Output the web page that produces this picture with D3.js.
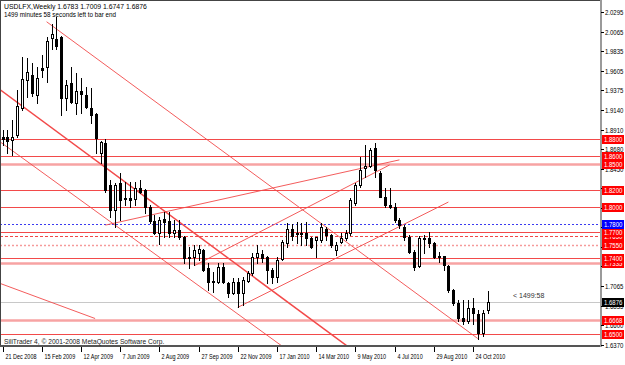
<!DOCTYPE html>
<html>
<head>
<meta charset="utf-8">
<script src="https://cdn.jsdelivr.net/npm/d3@7"></script>
<style>
  body { margin: 0; background: #fff; }
  svg { display: block; }
  text { font-family: "Liberation Sans", Arial, sans-serif; }
</style>
</head>
<body>
<svg id="chart" width="625" height="365"></svg>
<script>
// weekly bars, first bar = week of 21 Dec 2008
const barOpen = [1.8824,1.8824,1.8788,1.8847,1.9167,1.9498,1.9557,1.9321,1.9640,1.9652,
  1.9983,1.9971,1.9995,1.9285,1.9462,1.9226,1.9368,1.9321,1.9167,1.9096,
  1.8634,1.8753,1.8256,1.7960,1.8279,1.8090,1.8102,1.8090,1.8220,1.8197,
  1.7996,1.7830,1.7688,1.7854,1.7830,1.7688,1.7723,1.7641,1.7404,1.7404,
  1.7451,1.7487,1.7274,1.7108,1.7108,1.7286,1.7096,1.6978,1.7108,1.6978,
  1.7120,1.7215,1.7404,1.7440,1.7404,1.7250,1.7167,1.7380,1.7570,1.7735,
  1.7676,1.7688,1.7688,1.7629,1.7605,1.7605,1.7735,1.7664,1.7487,1.7582,
  1.7629,1.7688,1.8043,1.8256,1.8457,1.8481,1.8694,1.8398,1.8114,1.8019,
  1.7996,1.7842,1.7759,1.7641,1.7463,1.7298,1.7617,1.7629,1.7570,1.7404,
  1.7416,1.7298,1.7014,1.6860,1.6694,1.6658,1.6801,1.6741,1.6517,1.6783];
const barHigh = [1.8906,1.8906,1.9025,1.9380,1.9770,1.9758,1.9699,1.9652,1.9794,1.9995,
  2.0149,2.0231,2.0007,1.9498,1.9652,1.9581,1.9522,1.9415,1.9403,1.9108,
  1.8776,1.8800,1.8315,1.8279,1.8398,1.8291,1.8291,1.8291,1.8315,1.8208,
  1.8019,1.7901,1.7877,1.7936,1.7936,1.7842,1.7842,1.7652,1.7522,1.7546,
  1.7546,1.7499,1.7333,1.7227,1.7333,1.7333,1.7108,1.7156,1.7156,1.7167,
  1.7238,1.7451,1.7546,1.7487,1.7416,1.7274,1.7404,1.7605,1.7806,1.7794,
  1.7818,1.7806,1.7818,1.7641,1.7641,1.7806,1.7759,1.7676,1.7582,1.7688,
  1.7723,1.8102,1.8279,1.8587,1.8729,1.8694,1.8753,1.8421,1.8220,1.8220,
  1.8043,1.7865,1.7783,1.7664,1.7487,1.7652,1.7664,1.7700,1.7582,1.7463,
  1.7416,1.7309,1.7026,1.6895,1.6895,1.6895,1.6919,1.6777,1.6777,1.7009];
const barLow = [1.8729,1.8634,1.8611,1.8824,1.9143,1.9297,1.9309,1.9226,1.9533,1.9474,
  1.9853,1.9853,1.9084,1.9143,1.9226,1.9096,1.9108,1.9167,1.8989,1.8634,
  1.8516,1.8173,1.7877,1.7759,1.7842,1.8019,1.7996,1.8019,1.8161,1.7925,
  1.7806,1.7676,1.7558,1.7641,1.7641,1.7641,1.7617,1.7333,1.7274,1.7309,
  1.7369,1.7238,1.7014,1.6990,1.7096,1.7096,1.6931,1.6966,1.6813,1.6836,
  1.7108,1.7191,1.7333,1.7345,1.7096,1.7096,1.7108,1.7369,1.7522,1.7605,
  1.7570,1.7546,1.7546,1.7510,1.7404,1.7582,1.7605,1.7522,1.7428,1.7570,
  1.7605,1.7664,1.8019,1.8232,1.8350,1.8469,1.8350,1.8114,1.7996,1.7984,
  1.7818,1.7747,1.7605,1.7451,1.7250,1.7286,1.7451,1.7522,1.7392,1.7345,
  1.7250,1.6990,1.6836,1.6658,1.6623,1.6635,1.6623,1.6446,1.6481,1.6747];
const barClose = [1.8800,1.8776,1.8824,1.9190,1.9510,1.9593,1.9344,1.9522,1.9616,1.9948,
  2.0030,1.9900,1.9285,1.9439,1.9238,1.9368,1.9332,1.9179,1.9084,1.8812,
  1.8765,1.8197,1.7960,1.8256,1.8078,1.8102,1.8078,1.8220,1.8173,1.7996,
  1.7830,1.7688,1.7842,1.7818,1.7688,1.7723,1.7641,1.7392,1.7392,1.7487,
  1.7499,1.7250,1.7108,1.7120,1.7286,1.7108,1.6978,1.7108,1.6978,1.7132,
  1.7215,1.7404,1.7451,1.7392,1.7250,1.7167,1.7369,1.7582,1.7735,1.7652,
  1.7688,1.7676,1.7629,1.7522,1.7641,1.7759,1.7664,1.7546,1.7546,1.7629,
  1.7688,1.8078,1.8256,1.8433,1.8481,1.8670,1.8433,1.8114,1.8019,1.7996,
  1.7842,1.7783,1.7641,1.7463,1.7286,1.7629,1.7629,1.7570,1.7404,1.7416,
  1.7309,1.7014,1.6860,1.6694,1.6658,1.6801,1.6753,1.6517,1.6753,1.6876];

const tickBars = [0, 8, 16, 24, 32, 40, 48, 56, 64, 72, 80, 88, 96];
const tickLabels = ["21 Dec 2008", "15 Feb 2009", "12 Apr 2009", "7 Jun 2009", "2 Aug 2009",
  "27 Sep 2009", "22 Nov 2009", "17 Jan 2010", "14 Mar 2010", "9 May 2010", "4 Jul 2010",
  "29 Aug 2010", "24 Oct 2010"];
const priceTicks = [2.0295, 2.0065, 1.9835, 1.9605, 1.9375, 1.9140, 1.8910, 1.8680, 1.8450,
  1.8220, 1.7990, 1.7760, 1.7530, 1.7300, 1.7065, 1.6835, 1.6600, 1.6370];

// horizontal levels, grouped by line type
const solidLevels = [1.8800, 1.8600, 1.8200, 1.8000, 1.7700, 1.7400, 1.6500];
const heavyLevels = [1.8500, 1.7335, 1.6668];
const dashedLevels = [1.7650];
const dottedLevels = [1.7550];
const blueLevels = [1.7800];
const bidPrice = 1.6876;

// trend lines: [bar1, price1, bar2, price2]
const trendLines = [
  [9, 2.0180, 97, 1.6446],
  [-0.5, 1.9380, 70.5, 1.6351],
  [-0.5, 1.8765, 57.2, 1.6351],
  [-0.5, 1.7096, 18.9, 1.6682],
  [21, 1.7783, 81, 1.8552],
  [48, 1.6813, 91, 1.8055],
  [39.3, 1.7309, 79, 1.8492]
];

const headerLine1 = "USDLFX,Weekly  1.6783 1.7009 1.6747 1.6876";
const headerLine2 = "1499 minutes 58 seconds left to bar end";
const footerText = "SiliTrader 4, \u00a9 2001-2008 MetaQuotes Software Corp.";
const timerText = "< 1499:58";

const W = 625, H = 365;
const plotRight = 600, plotBottom = 346;

const svg = d3.select("#chart");
svg.append("rect").attr("width", W).attr("height", H).attr("fill", "#fff");

const x = d3.scaleLinear().domain([0, 99]).range([2.5, 487.6]);
const y = d3.scaleLinear().domain([1.6370, 2.0295]).range([345, 12]);

// squeeze a text to look like the narrow terminal font
function squeeze(sel, k) {
  const w = sel.node().getComputedTextLength();
  sel.attr("textLength", w * k).attr("lengthAdjust", "spacingAndGlyphs");
  return sel;
}

svg.append("clipPath").attr("id", "plot")
  .append("rect").attr("x", 1).attr("y", 1)
  .attr("width", plotRight - 1).attr("height", plotBottom - 1);

const plot = svg.append("g").attr("clip-path", "url(#plot)");
const red = "#f24a4a";

function hline(price, color, width, dash) {
  const yy = Math.round(y(price)) + 0.5;
  plot.append("line")
    .attr("x1", 0).attr("x2", plotRight)
    .attr("y1", yy).attr("y2", yy)
    .attr("stroke", color)
    .attr("stroke-width", width)
    .attr("stroke-dasharray", dash || null);
}

hline(bidPrice, "#c8c8c8", 1);
heavyLevels.forEach(p => hline(p, "#f7a3a3", 2.5));
solidLevels.forEach(p => hline(p, red, 1.2));
dashedLevels.forEach(p => hline(p, red, 1, "3,2"));
dottedLevels.forEach(p => hline(p, "#f59a9a", 1.5, "2,2"));
blueLevels.forEach(p => hline(p, "#3a3af0", 1, "2,2"));

trendLines.forEach((t, i) => {
  plot.append("line")
    .attr("x1", x(t[0])).attr("y1", y(t[1]))
    .attr("x2", x(t[2])).attr("y2", y(t[3]))
    .attr("stroke", red)
    .attr("stroke-width", i === 1 ? 1.5 : 0.9);
});

// candles
const bars = d3.range(barOpen.length);
const candle = plot.append("g").attr("shape-rendering", "crispEdges");
bars.forEach(i => {
  const cx = Math.round(x(i));
  const up = barClose[i] >= barOpen[i];
  candle.append("line")
    .attr("x1", cx + 0.5).attr("x2", cx + 0.5)
    .attr("y1", Math.round(y(barHigh[i]))).attr("y2", Math.round(y(barLow[i])) + 1)
    .attr("stroke", "#000");
  const top = Math.round(y(Math.max(barOpen[i], barClose[i])));
  const bot = Math.round(y(Math.min(barOpen[i], barClose[i])));
  if (up) {
    candle.append("rect")
      .attr("x", cx - 0.5).attr("y", top + 0.5)
      .attr("width", 2).attr("height", Math.max(bot - top, 1))
      .attr("fill", "#fff").attr("stroke", "#000");
  } else {
    candle.append("rect")
      .attr("x", cx - 1).attr("y", top)
      .attr("width", 3).attr("height", Math.max(bot - top, 1) + 1)
      .attr("fill", "#000");
  }
});

// frame
const frame = svg.append("g").attr("shape-rendering", "crispEdges");
frame.append("line").attr("x1", 0.5).attr("x2", 0.5).attr("y1", 0).attr("y2", plotBottom)
  .attr("stroke", "#444");
frame.append("line").attr("x1", 0).attr("x2", plotRight).attr("y1", 0.5).attr("y2", 0.5)
  .attr("stroke", "#444");
frame.append("line").attr("x1", 0).attr("x2", plotRight + 1).attr("y1", plotBottom).attr("y2", plotBottom)
  .attr("stroke", "#555").attr("stroke-width", 2);
frame.append("line").attr("x1", plotRight + 0.5).attr("x2", plotRight + 0.5).attr("y1", 0).attr("y2", plotBottom + 1)
  .attr("stroke", "#9a9a9a").attr("stroke-width", 2);

// price scale
const boxed = [...solidLevels, ...heavyLevels, ...dashedLevels, ...dottedLevels, ...blueLevels, bidPrice];
const axis = svg.append("g");
priceTicks.forEach(p => {
  const yy = Math.round(y(p)) + 0.5;
  axis.append("line").attr("x1", plotRight + 1).attr("x2", plotRight + 4)
    .attr("y1", yy).attr("y2", yy).attr("stroke", "#000");
  // labels sitting right under a price box are hidden by it
  if (boxed.some(b => Math.abs(y(b) - y(p)) < 3)) return;
  squeeze(axis.append("text").attr("x", plotRight + 5).attr("y", yy + 2.5)
    .attr("font-size", 7).attr("fill", "#000").text(p.toFixed(4)), 0.86);
});

function priceBox(p, color) {
  const yy = Math.round(y(p));
  axis.append("rect").attr("x", plotRight + 2).attr("y", yy - 4)
    .attr("width", 22).attr("height", 9).attr("fill", color);
  squeeze(axis.append("text").attr("x", plotRight + 4).attr("y", yy + 3)
    .attr("font-size", 7).attr("fill", "#fff")
    .text(p.toFixed(4)), 0.86);
}
[...solidLevels, ...heavyLevels, ...dashedLevels, ...dottedLevels]
  .sort((a, b) => a - b)
  .forEach(p => priceBox(p, "#f00"));
blueLevels.forEach(p => priceBox(p, "#00f"));
priceBox(bidPrice, "#000");

// time scale
tickBars.forEach((b, i) => {
  const xx = Math.round(x(b)) + 0.5;
  axis.append("line").attr("x1", xx).attr("x2", xx)
    .attr("y1", plotBottom + 1).attr("y2", plotBottom + 6).attr("stroke", "#000");
  squeeze(axis.append("text").attr("x", xx + 2).attr("y", 359)
    .attr("font-size", 7).attr("fill", "#000").text(tickLabels[i]), 0.78);
});

// texts
squeeze(svg.append("text").attr("x", 4).attr("y", 9).attr("font-size", 7).text(headerLine1), 0.98);
squeeze(svg.append("text").attr("x", 4).attr("y", 17).attr("font-size", 7).text(headerLine2), 0.9);
squeeze(svg.append("text").attr("x", 4).attr("y", 344).attr("font-size", 7).attr("fill", "#222")
  .text(footerText), 0.95);
svg.append("text").attr("x", 513).attr("y", 298)
  .attr("font-family", "'Liberation Mono', monospace").attr("font-size", 7)
  .attr("fill", "#333").attr("xml:space", "preserve").text(timerText);
</script>
</body>
</html>
